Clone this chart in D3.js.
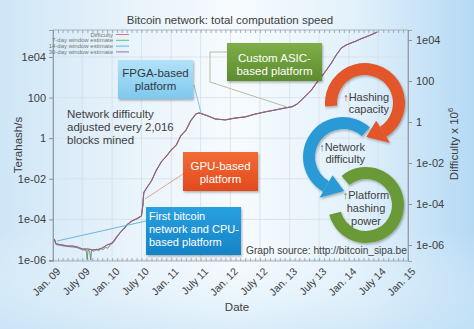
<!DOCTYPE html>
<html><head><meta charset="utf-8">
<script src="https://cdn.jsdelivr.net/npm/d3@7"></script>
<style>html,body{margin:0;padding:0;overflow:hidden;background:#e6f2fa;} svg{display:block;font-family:"Liberation Sans",Arial,sans-serif;}</style>
</head><body><svg id="c" width="474" height="329"></svg>
<script>
// ---------- data ----------
const xTickDates = ["2009-01-01","2009-07-01","2010-01-01","2010-07-01","2011-01-01","2011-07-01","2012-01-01","2012-07-01","2013-01-01","2013-07-01","2014-01-01","2014-07-01","2015-01-01"];
const xTickLabels = ["Jan. 09","July 09","Jan. 10","July 10","Jan. 11","July 11","Jan. 12","July 12","Jan. 13","July 13","Jan. 14","July 14","Jan. 15"];
const yTickValues = [1e-6,1e-4,1e-2,1,100,1e4];
const yTickLabels = ["1e-06","1e-04","1e-02","1","100","1e04"];
const seriesNames = ["Difficulty","7-day window estimate","14-day window estimate","30-day window estimate"];
const seriesColors = ["#e0507a","#4caf50","#3aa6d8","#8e4f9e"];

// difficulty-based hashrate (TH/s)
const diffDates = ["2009-01-09","2009-01-20","2009-03-01","2009-04-01","2009-05-01","2009-06-01","2009-07-01","2009-08-01","2009-09-01","2009-10-01","2009-11-01","2009-12-01","2010-01-01","2010-02-01","2010-03-01","2010-04-01","2010-05-01","2010-06-01","2010-07-01","2010-07-10","2010-07-15","2010-08-01","2010-09-01","2010-10-01","2010-11-01","2010-12-01","2011-01-01","2011-02-01","2011-03-01","2011-04-01","2011-05-01","2011-06-01","2011-06-20","2011-07-15","2011-08-15","2011-10-01","2011-12-01","2012-02-01","2012-04-01","2012-06-01","2012-08-01","2012-10-01","2012-12-01","2013-01-15","2013-02-15","2013-03-15","2013-04-15","2013-05-15","2013-06-15","2013-07-15","2013-08-15","2013-09-15","2013-10-15","2013-11-15","2013-12-15","2014-01-15","2014-02-15","2014-03-15","2014-04-15","2014-05-15","2014-06-25"];
const diffValues = [1.1e-5,6.2e-6,5.5e-6,4.9e-6,4.9e-6,4.4e-6,3.5e-6,3.5e-6,3.2e-6,3.2e-6,3.9e-6,5.5e-6,6.9e-6,1.5e-5,2.7e-5,5.2e-5,8.3e-5,1.05e-4,1.5e-4,5.1e-4,2.0e-3,3.5e-3,7.8e-3,2.7e-2,6.8e-2,0.13,0.26,0.47,1.3,2.5,7.1,15.5,17.4,15.5,12.3,8.9,7.9,10,11,15.5,19.5,24.5,31,35,48,76,135,234,525,1020,2290,5000,12600,27500,38900,49000,61700,77600,97700,120000,170000];

// short-window estimate (noisy early period)
const estDates = ["2009-01-09","2009-01-20","2009-03-01","2009-04-01","2009-05-01","2009-06-01","2009-07-01","2009-07-25","2009-07-31","2009-08-05","2009-08-15","2009-08-22","2009-08-27","2009-09-10","2009-09-25","2009-10-10","2009-10-25","2009-11-05","2009-11-20","2009-12-05","2009-12-20","2010-01-01","2010-01-15","2010-02-01","2010-03-01","2010-03-20","2010-04-01","2010-05-01","2010-06-01","2010-07-01","2010-07-10","2010-07-15","2010-08-01","2010-09-01","2010-10-01","2010-11-01","2010-12-01","2011-01-01","2011-02-01","2011-03-01","2011-04-01","2011-05-01","2011-06-01","2011-06-20","2011-07-15","2011-08-15","2011-10-01","2011-12-01","2012-02-01","2012-04-01","2012-06-01","2012-08-01","2012-10-01","2012-12-01","2013-01-15","2013-02-15","2013-03-15","2013-04-15","2013-05-15","2013-06-15","2013-07-15","2013-08-15","2013-09-15","2013-10-15","2013-11-15","2013-12-15","2014-01-15","2014-02-15","2014-03-15","2014-04-15","2014-05-15","2014-06-25"];
const estValues = [1.0e-5,5.8e-6,5.0e-6,4.6e-6,4.4e-6,4.0e-6,3.2e-6,3.0e-6,1.05e-6,3.1e-6,2.8e-6,1.0e-6,3.0e-6,2.7e-6,3.4e-6,2.9e-6,3.6e-6,3.2e-6,4.2e-6,3.8e-6,5.6e-6,6.4e-6,8.5e-6,1.4e-5,2.8e-5,3.6e-5,5.5e-5,8.0e-5,1.1e-4,1.45e-4,6.0e-4,2.2e-3,3.3e-3,8.2e-3,2.5e-2,7.2e-2,0.12,0.28,0.44,1.4,2.3,7.6,15,17.9,15,12.8,8.5,8.2,9.6,11.5,15,20,24,30,36,47,78,130,240,510,1050,2200,5100,12300,28000,38000,50000,60500,78500,96000,122000,168000];

// ---------- layout ----------
const W = 474, H = 329;
const L = 53, R = 408, T = 30, B = 261;
const TXT = "#404040";
const svg = d3.select("#c");
const defs = svg.append("defs");

const bg = defs.append("linearGradient").attr("id","bg").attr("x1","0").attr("x2","1").attr("y1","0").attr("y2","0");
[[0,"#cfe6f7"],[0.3,"#eaf4fb"],[0.5,"#f7fbfe"],[0.75,"#e2f1fb"],[1,"#b5d9f4"]].forEach(s=>bg.append("stop").attr("offset",s[0]).attr("stop-color",s[1]));
const bgv = defs.append("linearGradient").attr("id","bgv").attr("x1","0").attr("x2","0").attr("y1","0").attr("y2","1");
[[0,"#ffffff",0.0],[0.7,"#ffffff",0.0],[1,"#c8e4f7",0.6]].forEach(s=>bgv.append("stop").attr("offset",s[0]).attr("stop-color",s[1]).attr("stop-opacity",s[2]));
svg.append("rect").attr("width",W).attr("height",H).attr("fill","url(#bg)");
svg.append("rect").attr("width",W).attr("height",H).attr("fill","url(#bgv)");

function grad(id, c1, c2){
  const g = defs.append("linearGradient").attr("id",id).attr("x1","0").attr("x2","0").attr("y1","0").attr("y2","1");
  g.append("stop").attr("offset",0).attr("stop-color",c1);
  g.append("stop").attr("offset",1).attr("stop-color",c2);
}
grad("gFPGA","#b3e2f8","#7ec8ee");
grad("gASIC","#7fae48","#5c8c2e");
grad("gGPU","#f26b36","#e24a1e");
grad("gCPU","#29a0e0","#1683c6");
const sh = defs.append("filter").attr("id","sh").attr("x","-20%").attr("y","-20%").attr("width","140%").attr("height","150%");
sh.append("feDropShadow").attr("dx",1).attr("dy",1.5).attr("stdDeviation",1.2).attr("flood-color","#000").attr("flood-opacity",0.3);

const x = d3.scaleTime().domain([new Date("2009-01-01"), new Date("2015-01-01")]).range([L, R]);
const y = d3.scaleLog().domain([Math.pow(10,-6.05), Math.pow(10,5.33)]).range([B, T]);
const y2 = d3.scaleLog().domain([Math.pow(10,-6.78), Math.pow(10,4.49)]).range([B, T]);

// grid
const xt = xTickDates.map(d=>new Date(d));
svg.append("g").selectAll("line").data(xt.slice(1,-1)).join("line")
  .attr("x1",d=>x(d)).attr("x2",d=>x(d)).attr("y1",T).attr("y2",B)
  .attr("stroke","#d6dee6").attr("stroke-width",0.8);
svg.append("g").selectAll("line").data(yTickValues).join("line")
  .attr("x1",L).attr("x2",R).attr("y1",d=>y(d)).attr("y2",d=>y(d))
  .attr("stroke","#d6dee6").attr("stroke-width",0.8);

// frame
svg.append("rect").attr("x",L).attr("y",T).attr("width",R-L).attr("height",B-T)
  .attr("fill","none").attr("stroke","#9aa4ad").attr("stroke-width",0.8);

// axes
const months = d3.timeMonth.range(new Date("2009-01-01"), new Date("2015-01-02"));
const axB = svg.append("g").attr("transform",`translate(0,${B})`)
  .call(d3.axisBottom(x).tickValues(months).tickSize(-3).tickFormat(""));
const axT = svg.append("g").attr("transform",`translate(0,${T})`)
  .call(d3.axisTop(x).tickValues(months).tickSize(-3).tickFormat(""));
[axB,axT].forEach(a=>{a.select(".domain").remove(); a.selectAll("line").attr("stroke","#8a949d").attr("stroke-width",0.7);});

const axL = svg.append("g").attr("transform",`translate(${L},0)`)
  .call(d3.axisLeft(y).tickValues(yTickValues).tickSize(4).tickFormat((d,i)=>yTickLabels[i]));
const axR = svg.append("g").attr("transform",`translate(${R},0)`)
  .call(d3.axisRight(y2).tickValues(yTickValues).tickSize(4).tickFormat((d,i)=>yTickLabels[i]));
[axL,axR].forEach(a=>{
  a.select(".domain").attr("stroke","#8a949d").attr("stroke-width",0.8);
  a.selectAll("line").attr("stroke","#8a949d");
  a.selectAll("text").attr("font-size",11).attr("fill",TXT).attr("font-family","Liberation Sans, Arial, sans-serif");
});
axL.selectAll("text").attr("x",-7);
axR.selectAll("text").attr("x",8);

// x tick labels
svg.append("g").selectAll("text").data(xt).join("text")
  .attr("transform",(d)=>`translate(${x(d)+3},${267}) rotate(-45)`)
  .attr("text-anchor","end").attr("dy","0.7em")
  .attr("font-size",10.5).attr("fill",TXT)
  .text((d,i)=>xTickLabels[i]);

// lines
const line = d3.line().x(d=>x(d[0])).y(d=>y(d[1]));
const diffData = diffDates.map((d,i)=>[new Date(d), diffValues[i]]);
const estData = estDates.map((d,i)=>[new Date(d), estValues[i]]);
const plot = svg.append("g");
plot.append("path").datum(estData).attr("d",line).attr("fill","none").attr("stroke",seriesColors[1]).attr("stroke-width",0.9).attr("opacity",0.6);
plot.append("path").datum(estData).attr("d",line).attr("fill","none").attr("stroke","#70807a").attr("stroke-width",0.8).attr("opacity",0.8);
plot.append("path").datum(diffData).attr("d",line).attr("fill","none").attr("stroke",seriesColors[2]).attr("stroke-width",0.8).attr("opacity",0.5);
plot.append("path").datum(diffData).attr("d",line).attr("fill","none").attr("stroke",seriesColors[0]).attr("stroke-width",1.1).attr("opacity",0.7);
plot.append("path").datum(diffData).attr("d",line).attr("fill","none").attr("stroke","#80607c").attr("stroke-width",0.8);

// legend
const lg = svg.append("g");
seriesNames.forEach((n,i)=>{
  const yy = 36.5 + i*5.8;
  lg.append("text").attr("x",113).attr("y",yy).attr("text-anchor","end").attr("font-size",6).attr("fill","#777").text(n);
  lg.append("line").attr("x1",116).attr("x2",129).attr("y1",yy-2).attr("y2",yy-2).attr("stroke",seriesColors[i]).attr("stroke-width",0.8);
});

// title & labels
svg.append("text").attr("x",230).attr("y",24).attr("text-anchor","middle").attr("font-size",11.5).attr("fill",TXT).text("Bitcoin network: total computation speed");
svg.append("text").attr("x",237).attr("y",311).attr("text-anchor","middle").attr("font-size",11.5).attr("fill",TXT).text("Date");
svg.append("text").attr("transform","translate(22,145) rotate(-90)").attr("text-anchor","middle").attr("font-size",11.5).attr("fill",TXT).text("Terahash/s");
const rl = svg.append("text").attr("transform","translate(458,144) rotate(-90)").attr("text-anchor","middle").attr("font-size",11.5).attr("fill",TXT);
rl.append("tspan").text("Difficulty x 10");
rl.append("tspan").attr("dy",-5).attr("font-size",7.5).text("6");

// note
const note = svg.append("text").attr("font-size",11.5).attr("fill",TXT);
["Network difficulty","adjusted every 2,016","blocks mined"].forEach((t,i)=>note.append("tspan").attr("x",67).attr("y",118+i*12.8).text(t));
svg.append("text").attr("x",246).attr("y",254).attr("font-size",10.2).attr("fill",TXT).text("Graph source: http://bitcoin_sipa.be");

// pointer lines
const pl = svg.append("g").attr("fill","none").attr("stroke-width",0.9);
pl.append("polyline").attr("points","194,85 201,113").attr("stroke","#74bde2");
pl.append("polyline").attr("points","227,52 210,52 210,82 287,107").attr("stroke","#b0b49a");
pl.append("polyline").attr("points","183,174 145,199").attr("stroke","#e59a86");
pl.append("polyline").attr("points","146,221 57,241").attr("stroke","#5aaee0");

// boxes
function box(x0,y0,w,h,fill,lines,color,anchor,ys,fs){
  svg.append("rect").attr("x",x0).attr("y",y0).attr("width",w).attr("height",h).attr("fill",fill).attr("filter","url(#sh)");
  lines.forEach((t,i)=>svg.append("text").attr("x",anchor==="middle"?x0+w/2:x0+3).attr("y",ys[i])
    .attr("text-anchor",anchor).attr("font-size",fs).attr("fill",color).text(t));
}
box(118,60,75,39,"url(#gFPGA)",["FPGA-based","platform"],"#2f3a40","middle",[77,90],11.5);
box(227,43,95,38,"url(#gASIC)",["Custom ASIC-","based platform"],"#ffffff","middle",[62,75],11.5);
box(183,152,75,39,"url(#gGPU)",["GPU-based","platform"],"#ffffff","middle",[170,183],11.5);
box(146,207,95,48,"url(#gCPU)",["First bitcoin","network and CPU-","based platform"],"#ffffff","start",[220,233,246],11);

// cycle rings
const rad = a=>a*Math.PI/180;
const pt = (cx,cy,r,a)=>[cx+r*Math.sin(rad(a)), cy-r*Math.cos(rad(a))];
function ring(cx,cy,ri,ro,a0,a1,color,head){
  const g = svg.append("g").attr("filter","url(#sh)");
  g.append("path").attr("transform",`translate(${cx},${cy})`)
    .attr("d",d3.arc()({innerRadius:ri,outerRadius:ro,startAngle:rad(a0),endAngle:rad(a1)})).attr("fill",color);
  if(head){
    const rm=(ri+ro)/2;
    const p1=pt(cx,cy,ri-7,a1), p2=pt(cx,cy,ro+7,a1), p3=pt(cx,cy,rm,head);
    g.append("path").attr("d",`M${p1}L${p2}L${p3}Z`).attr("fill",color);
  }
}
ring(366,205,26,38,-40,255,"#6a9a38",null);
ring(343,157,28,40,42,-150,"#2b9ad6",-182);
ring(365,103,28,40,-95,148,"#e2562b",178);

function ringText(lines, xs, ys, anchor, arrowColor){
  lines.forEach((t,i)=>{
    const tx = svg.append("text").attr("x",xs).attr("y",ys[i]).attr("text-anchor",anchor).attr("font-size",11).attr("fill",TXT);
    if(i===0){ tx.append("tspan").attr("fill",arrowColor).text("\u2191"); }
    tx.append("tspan").text(t);
  });
}
ringText(["Hashing","capacity"],389,[101,113],"end","#c8202a");
ringText(["Network","difficulty"],365,[151,163],"end","#1a7cc0");
ringText(["Platform","hashing","power"],366,[199,212,225],"middle","#4f8a2a");
</script></body></html>
